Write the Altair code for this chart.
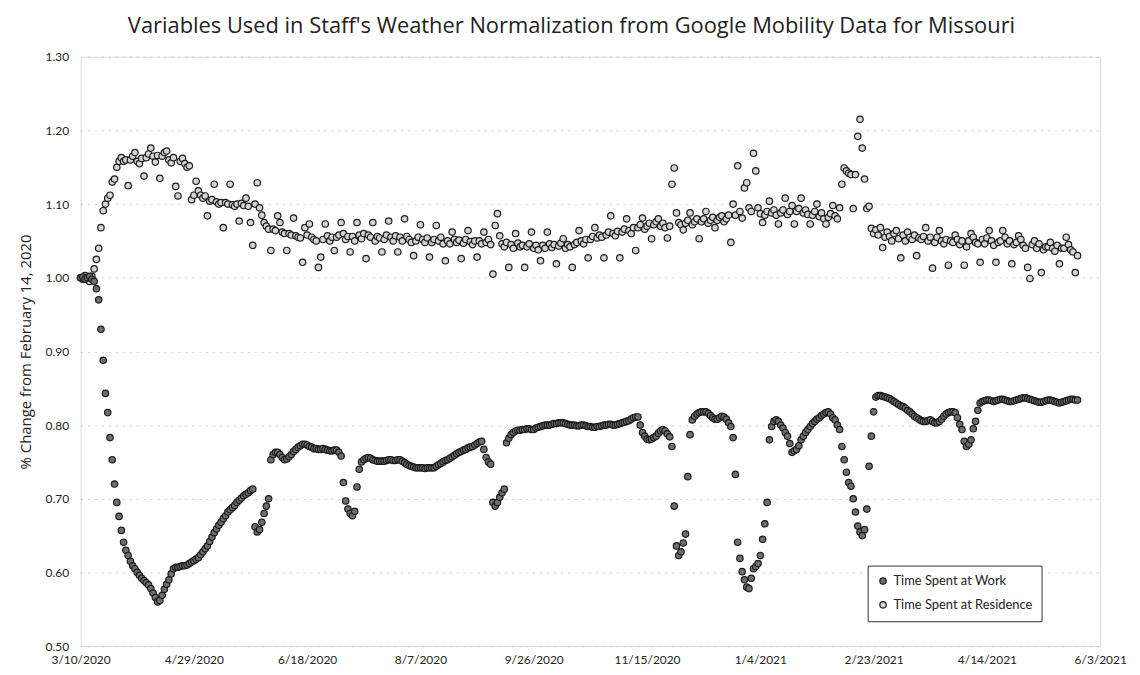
import altair as alt
import pandas as pd

TITLE = "Variables Used in Staff's Weather Normalization from Google Mobility Data for Missouri"
Y_TITLE = "% Change from February 14, 2020"
SERIES = ["Time Spent at Work", "Time Spent at Residence"]
START = "2020-03-10"

# daily values, one row per week (starting Tuesday 3/10/2020)
WORK = [
    1.000, 1.001, 0.998, 1.000, 1.002, 0.998, 0.995,
    0.985, 0.970, 0.930, 0.888, 0.843, 0.817, 0.783,
    0.753, 0.720, 0.695, 0.676, 0.657, 0.641, 0.630,
    0.623, 0.615, 0.609, 0.605, 0.600, 0.596, 0.592,
    0.589, 0.586, 0.583, 0.578, 0.572, 0.566, 0.560,
    0.562, 0.569, 0.577, 0.584, 0.590, 0.598, 0.605,
    0.607, 0.607, 0.608, 0.609, 0.609, 0.610, 0.612,
    0.614, 0.616, 0.618, 0.620, 0.624, 0.628, 0.632,
    0.636, 0.642, 0.648, 0.654, 0.659, 0.664, 0.668,
    0.673, 0.677, 0.682, 0.685, 0.688, 0.691, 0.695,
    0.698, 0.701, 0.704, 0.706, 0.708, 0.711, 0.713,
    0.662, 0.655, 0.658, 0.668, 0.680, 0.690, 0.700,
    0.753, 0.760, 0.763, 0.763, 0.760, 0.756, 0.753,
    0.754, 0.757, 0.760, 0.764, 0.767, 0.770, 0.772,
    0.774, 0.774, 0.773, 0.771, 0.770, 0.768, 0.768,
    0.767, 0.767, 0.768, 0.767, 0.766, 0.765, 0.765,
    0.766, 0.766, 0.763, 0.758, 0.722, 0.697, 0.686,
    0.680, 0.677, 0.683, 0.716, 0.740, 0.750, 0.753,
    0.755, 0.756, 0.755, 0.753, 0.752, 0.751, 0.751,
    0.751, 0.751, 0.752, 0.753, 0.753, 0.752, 0.752,
    0.753, 0.753, 0.751, 0.749, 0.747, 0.745, 0.744,
    0.743, 0.742, 0.742, 0.742, 0.742, 0.741, 0.742,
    0.742, 0.742, 0.742, 0.744, 0.746, 0.748, 0.750,
    0.752, 0.753, 0.755, 0.757, 0.759, 0.761, 0.763,
    0.764, 0.766, 0.767, 0.769, 0.770, 0.771, 0.773,
    0.775, 0.777, 0.778, 0.767, 0.756, 0.750, 0.747,
    0.695, 0.690, 0.695, 0.702, 0.708, 0.713, 0.776,
    0.782, 0.787, 0.790, 0.792, 0.793, 0.793, 0.794,
    0.794, 0.795, 0.795, 0.794, 0.794, 0.796, 0.797,
    0.798, 0.799, 0.800, 0.800, 0.800, 0.801, 0.802,
    0.802, 0.803, 0.803, 0.803, 0.802, 0.801, 0.800,
    0.800, 0.800, 0.799, 0.799, 0.800, 0.800, 0.799,
    0.798, 0.798, 0.797, 0.797, 0.798, 0.798, 0.799,
    0.800, 0.800, 0.801, 0.801, 0.800, 0.800, 0.801,
    0.802, 0.803, 0.804, 0.805, 0.806, 0.808, 0.810,
    0.811, 0.811, 0.800, 0.790, 0.785, 0.781, 0.780,
    0.781, 0.783, 0.785, 0.789, 0.792, 0.794, 0.792,
    0.788, 0.784, 0.771, 0.690, 0.636, 0.623, 0.628,
    0.640, 0.652, 0.730, 0.787, 0.807, 0.812, 0.815,
    0.817, 0.818, 0.818, 0.818, 0.816, 0.813, 0.810,
    0.808, 0.808, 0.810, 0.812, 0.811, 0.808, 0.803,
    0.798, 0.783, 0.733, 0.641, 0.619, 0.601, 0.590,
    0.580, 0.578, 0.592, 0.605, 0.608, 0.612, 0.623,
    0.645, 0.666, 0.695, 0.780, 0.798, 0.805, 0.807,
    0.805, 0.800, 0.796, 0.790, 0.785, 0.775, 0.763,
    0.765, 0.767, 0.772, 0.780, 0.785, 0.790, 0.794,
    0.798, 0.802, 0.805, 0.808, 0.810, 0.813, 0.815,
    0.817, 0.818, 0.815, 0.810, 0.807, 0.800, 0.794,
    0.771, 0.753, 0.736, 0.722, 0.717, 0.700, 0.682,
    0.663, 0.655, 0.650, 0.658, 0.686, 0.744, 0.785,
    0.818, 0.838, 0.840, 0.840, 0.839, 0.838, 0.837,
    0.836, 0.834, 0.832, 0.830, 0.828, 0.826, 0.825,
    0.823, 0.820, 0.818, 0.815, 0.812, 0.810, 0.808,
    0.806, 0.805, 0.805, 0.806, 0.807, 0.805, 0.803,
    0.803, 0.805, 0.808, 0.812, 0.815, 0.817, 0.818,
    0.818, 0.817, 0.810, 0.801, 0.794, 0.778, 0.771,
    0.774, 0.780, 0.795, 0.805, 0.820, 0.830, 0.832,
    0.833, 0.834, 0.834, 0.833, 0.832, 0.833, 0.834,
    0.835, 0.835, 0.834, 0.833, 0.832, 0.832, 0.833,
    0.834, 0.835, 0.836, 0.837, 0.837, 0.836, 0.835,
    0.834, 0.833, 0.832, 0.831, 0.831, 0.832, 0.833,
    0.834, 0.834, 0.833, 0.832, 0.831, 0.830, 0.831,
    0.832, 0.833, 0.834, 0.835, 0.835, 0.834, 0.834,
]

RESIDENCE = [
    1.000, 0.998, 1.003, 1.000, 0.995, 1.002, 1.012,
    1.025, 1.040, 1.068, 1.091, 1.100, 1.108, 1.112,
    1.130, 1.134, 1.150, 1.158, 1.163, 1.158, 1.160,
    1.125, 1.160, 1.165, 1.170, 1.158, 1.155, 1.162,
    1.138, 1.163, 1.168, 1.176, 1.165, 1.157, 1.166,
    1.135, 1.165, 1.170, 1.172, 1.160, 1.156, 1.163,
    1.124, 1.111, 1.158, 1.162, 1.155, 1.150, 1.152,
    1.106, 1.112, 1.131, 1.118, 1.112, 1.108, 1.111,
    1.084, 1.104, 1.106, 1.127, 1.103, 1.100, 1.102,
    1.068, 1.102, 1.100, 1.127, 1.099, 1.097, 1.100,
    1.077, 1.101, 1.098, 1.108, 1.097, 1.075, 1.044,
    1.100, 1.129, 1.095, 1.085, 1.075, 1.070, 1.066,
    1.037, 1.066, 1.064, 1.084, 1.075, 1.062, 1.060,
    1.037, 1.060, 1.058, 1.081, 1.057, 1.055, 1.054,
    1.021, 1.068, 1.058, 1.073, 1.055, 1.052, 1.050,
    1.014, 1.028, 1.052, 1.073, 1.057, 1.050, 1.055,
    1.037, 1.055, 1.058, 1.075, 1.060, 1.052, 1.056,
    1.035, 1.056, 1.050, 1.075, 1.058, 1.053, 1.060,
    1.026, 1.058, 1.055, 1.075, 1.050, 1.056, 1.054,
    1.035, 1.052, 1.058, 1.077, 1.055, 1.050, 1.057,
    1.035, 1.055, 1.050, 1.080, 1.056, 1.052, 1.048,
    1.030, 1.050, 1.055, 1.072, 1.052, 1.048, 1.054,
    1.028, 1.048, 1.052, 1.071, 1.050, 1.055, 1.046,
    1.023, 1.050, 1.046, 1.062, 1.052, 1.048, 1.051,
    1.026, 1.047, 1.052, 1.064, 1.049, 1.045, 1.050,
    1.028, 1.050, 1.046, 1.062, 1.048, 1.052, 1.045,
    1.005, 1.071, 1.087, 1.057, 1.046, 1.042, 1.048,
    1.014, 1.045, 1.040, 1.060, 1.047, 1.042, 1.044,
    1.014, 1.042, 1.046, 1.062, 1.040, 1.044, 1.038,
    1.023, 1.044, 1.040, 1.062, 1.046, 1.041, 1.045,
    1.019, 1.043, 1.047, 1.053, 1.040, 1.045, 1.042,
    1.014, 1.045, 1.048, 1.064, 1.050, 1.046, 1.052,
    1.027, 1.052, 1.056, 1.068, 1.054, 1.058, 1.055,
    1.027, 1.058, 1.062, 1.084, 1.060, 1.057, 1.063,
    1.027, 1.062, 1.066, 1.080, 1.064, 1.060, 1.068,
    1.037, 1.068, 1.072, 1.081, 1.066, 1.070, 1.074,
    1.053, 1.072, 1.076, 1.080, 1.070, 1.074, 1.068,
    1.054, 1.070, 1.127, 1.149, 1.088, 1.075, 1.072,
    1.065, 1.074, 1.078, 1.088, 1.072, 1.076, 1.080,
    1.053, 1.076, 1.080, 1.090, 1.074, 1.078, 1.082,
    1.068, 1.078, 1.082, 1.084, 1.076, 1.080, 1.085,
    1.048, 1.100, 1.085, 1.152, 1.090, 1.081, 1.122,
    1.129, 1.095, 1.090, 1.169, 1.145, 1.095, 1.087,
    1.075, 1.085, 1.090, 1.104, 1.088, 1.092, 1.085,
    1.073, 1.088, 1.092, 1.108, 1.086, 1.090, 1.098,
    1.073, 1.090, 1.094, 1.108, 1.088, 1.092, 1.086,
    1.073, 1.085, 1.090, 1.100, 1.083, 1.088, 1.080,
    1.073, 1.082, 1.087, 1.098, 1.084, 1.080, 1.095,
    1.127, 1.149, 1.145, 1.142, 1.140, 1.094, 1.140,
    1.192, 1.215, 1.176, 1.134, 1.094, 1.097, 1.067,
    1.060, 1.065, 1.058, 1.068, 1.041, 1.055, 1.062,
    1.056, 1.050, 1.060, 1.064, 1.053, 1.027, 1.058,
    1.050, 1.062, 1.055, 1.052, 1.058, 1.030, 1.054,
    1.052, 1.056, 1.068, 1.050, 1.055, 1.013, 1.048,
    1.055, 1.064, 1.050, 1.046, 1.052, 1.017, 1.050,
    1.048, 1.058, 1.052, 1.045, 1.050, 1.017, 1.042,
    1.050, 1.060, 1.055, 1.048, 1.046, 1.021, 1.052,
    1.046, 1.054, 1.064, 1.050, 1.044, 1.021, 1.048,
    1.050, 1.064, 1.055, 1.046, 1.050, 1.019, 1.045,
    1.048, 1.057, 1.052, 1.044, 1.040, 1.014, 0.999,
    1.045, 1.050, 1.040, 1.046, 1.007, 1.038, 1.042,
    1.042, 1.048, 1.040, 1.036, 1.044, 1.019, 1.040,
    1.040, 1.055, 1.045, 1.038, 1.035, 1.007, 1.030,
]

X_TICKS = [(2020, 3, 10), (2020, 4, 29), (2020, 6, 18), (2020, 8, 7), (2020, 9, 26),
           (2020, 11, 15), (2021, 1, 4), (2021, 2, 23), (2021, 4, 14), (2021, 6, 3)]
Y_TICKS = [0.50, 0.60, 0.70, 0.80, 0.90, 1.00, 1.10, 1.20, 1.30]

n = len(WORK)
dates = list(pd.date_range(START, periods=n, freq="D").strftime("%Y-%m-%d"))
df = pd.DataFrame({
    "date": dates + dates,
    "value": WORK + RESIDENCE,
    "series": [SERIES[0]] * n + [SERIES[1]] * n,
})


def dt(y, m, d):
    return alt.DateTime(year=y, month=m, date=d, utc=True)


FONT = "Lato"

chart = alt.Chart(df).mark_point(
    shape="circle", filled=True, size=42, stroke="#1a1a1a", strokeWidth=1.2, opacity=1
).encode(
    x=alt.X(
        "date:T",
        scale=alt.Scale(type="utc", domain=[dt(2020, 3, 10), dt(2021, 6, 3)]),
        axis=alt.Axis(
            values=[dt(*t) for t in X_TICKS],
            labelExpr="utcFormat(datum.value, '%-m/%-d/%Y')",
            title=None, ticks=False, grid=False, domain=False,
            labelPadding=9, labelFontSize=12, labelFont=FONT, labelColor="#222",
            labelFlush=False, labelOverlap=False,
        ),
    ),
    y=alt.Y(
        "value:Q",
        scale=alt.Scale(domain=[0.5, 1.3], nice=False, zero=False),
        axis=alt.Axis(
            values=Y_TICKS, format=".2f", title=Y_TITLE,
            ticks=False, domain=False, grid=True,
            gridColor="#c4c4c4", gridDash=[2, 5], gridWidth=0.8,
            labelPadding=12, labelFontSize=12, labelFont=FONT, labelColor="#222",
            titleFont="Open Sans", titleFontSize=15, titleFontWeight="normal",
            titleColor="#222", titlePadding=12,
        ),
    ),
    fill=alt.Fill(
        "series:N",
        scale=alt.Scale(domain=SERIES, range=["#6e6e6e", "#d4d4d4"]),
        legend=alt.Legend(
            title=None, orient="none", legendX=792, legendY=512,
            symbolType="circle", symbolSize=42, symbolStrokeColor="#1a1a1a",
            symbolStrokeWidth=1.2, labelFont=FONT, labelFontSize=13,
            labelColor="#222", rowPadding=10, padding=9,
            strokeColor="#333", fillColor="white", labelLimit=300,
        ),
    ),
    order=alt.Order("series:N", sort="ascending"),
).properties(
    width=1026,
    height=593,
    title=alt.TitleParams(
        TITLE, font="Open Sans", fontSize=22, fontWeight="normal", color="#222",
        anchor="middle", dx=-19, offset=13,
    ),
    padding={"left": 73, "top": 47, "right": 32, "bottom": 20},
    autosize=alt.AutoSizeParams(type="none"),
).configure_view(
    stroke="#333", strokeWidth=1
).configure(background="white")

chart.save("out.html", embed_options={"renderer": "svg", "actions": False})
